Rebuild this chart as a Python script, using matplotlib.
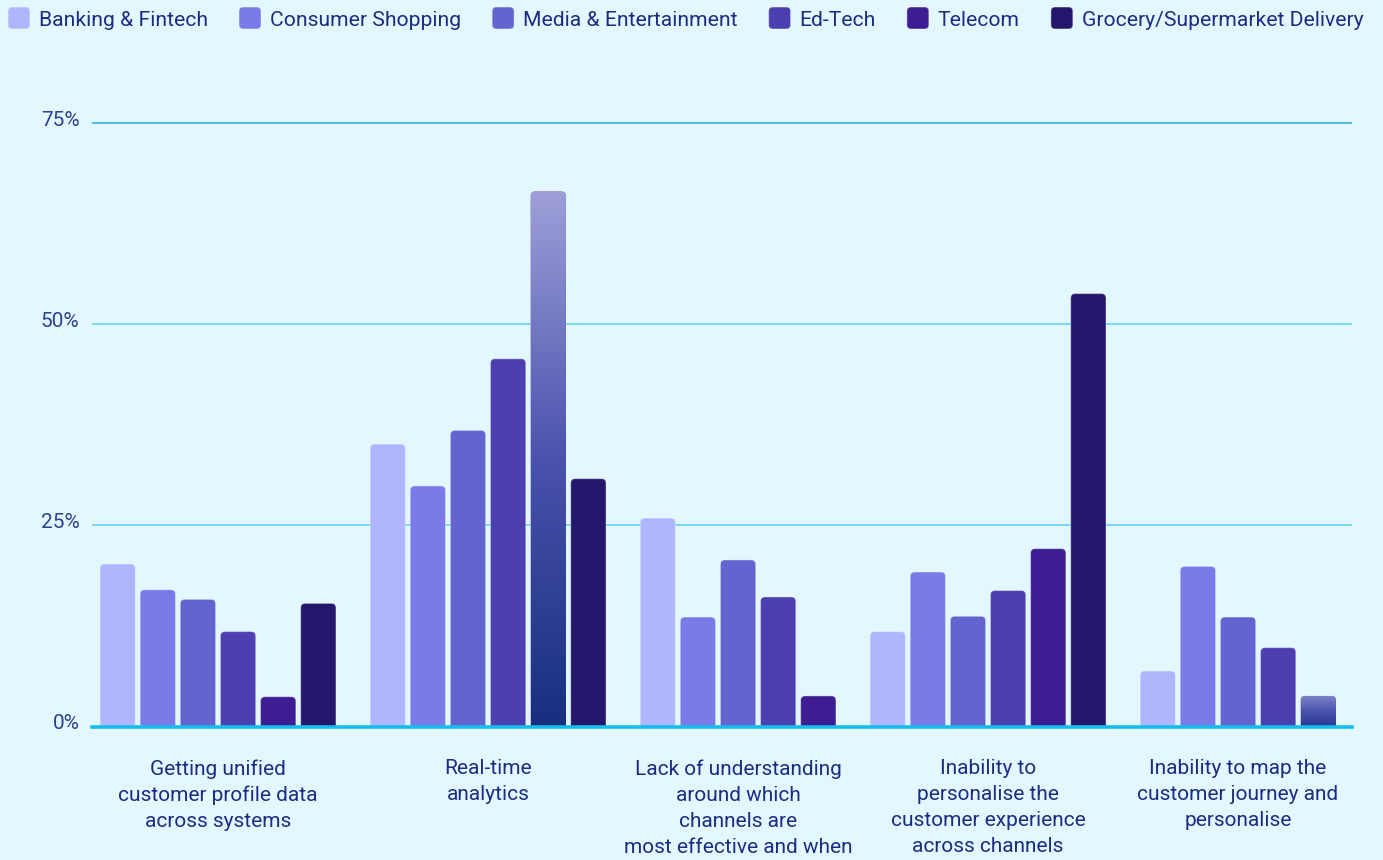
import matplotlib
matplotlib.use("Agg")
import matplotlib.pyplot as plt
import numpy as np
from matplotlib.patches import FancyBboxPatch
from matplotlib.colors import LinearSegmentedColormap
import matplotlib.transforms as mtransforms

# ---------------- data ----------------
categories = [
    "Getting unified\ncustomer profile data\nacross systems",
    "Real-time\nanalytics",
    "Lack of understanding\naround which\nchannels are\nmost effective and when",
    "Inability to\npersonalise the\ncustomer experience\nacross channels",
    "Inability to map the\ncustomer journey and\npersonalise",
]
series_names = ["Banking & Fintech", "Consumer Shopping", "Media & Entertainment",
                "Ed-Tech", "Telecom", "Grocery/Supermarket Delivery"]
banking   = [20.2, 35.1, 25.9, 11.8, 6.9]
consumer  = [17.0, 29.9, 13.6, 19.2, 19.9]
media     = [15.8, 36.8, 20.7, 13.7, 13.6]
edtech    = [11.8, 45.7, 16.1, 16.9, 9.8]
telecom   = [3.7, 66.5, 3.8, 22.1, 3.8]
grocery   = [15.3, 30.8, None, 53.8, None]
series_values = [banking, consumer, media, edtech, telecom, grocery]
y_ticks = [0, 25, 50, 75]
y_tick_labels = ["0%", "25%", "50%", "75%"]

# bars drawn with a gradient instead of the series colour: (series index, category index)
gradient_bars = {(4, 1): ("#9e9fd8", "#172f7f"), (4, 4): ("#7e82c8", "#26398d")}

colors = ["#b0b6fe", "#7a7ae8", "#6364d0", "#4c40b0", "#3e1c91", "#24176b"]
BG = "#e2f7fe"
TXT = "#1b2d82"
TICK_TXT = "#2a4290"
FONT = "Roboto"
FS = 15

W, H = 1383, 860
fig = plt.figure(figsize=(W / 100, H / 100), dpi=100, facecolor=BG)

def fx(px):
    return px / W

def fy(py):
    return 1 - py / H

ax_left, ax_right, ax_bottom_px = 92, 1352, 726.5
y_top_val = 80
px_per_unit_y = (726.5 - 123) / 75
ax_top_px = ax_bottom_px - y_top_val * px_per_unit_y
ax = fig.add_axes([fx(ax_left), fy(ax_bottom_px), fx(ax_right) - fx(ax_left),
                   fy(ax_top_px) - fy(ax_bottom_px)])
ax.set_facecolor(BG)
for s in ax.spines.values():
    s.set_visible(False)

# ---------------- positions ----------------
bar_w = 0.88
group_gap = 0.73
bars = []
group_centers = []
pos = 0.0
for g in range(len(categories)):
    gpos = []
    for s in range(len(series_names)):
        v = series_values[s][g]
        if v is None:
            continue
        bars.append((s, g, pos, v))
        gpos.append(pos)
        pos += 1
    group_centers.append(np.mean(gpos))
    pos += group_gap
first_x = bars[0][2]
last_x = bars[-1][2]
x_min = first_x - bar_w / 2 - 0.2
x_max = last_x + bar_w / 2 + 0.4
ax.set_xlim(x_min, x_max)
ax.set_ylim(0, y_top_val)

px_per_unit_x = (ax_right - ax_left) / (x_max - x_min)
radius_px = 4.5
r_x = radius_px / px_per_unit_x
aspect = px_per_unit_x / px_per_unit_y  # y-units per x-unit for same pixel size

# grid lines
grid_colors = {0: "#14bdf0", 25: "#63d3f4", 50: "#63d3f4", 75: "#35b3e2"}
for t in y_ticks:
    if t == 0:
        ax.axhline(t, color=grid_colors[t], lw=2.6, zorder=5, clip_on=False)
    else:
        ax.axhline(t, color=grid_colors[t], lw=1.2, zorder=0)

# bars
for s, g, x, v in bars:
    x0 = x - bar_w / 2
    y0 = -2 * r_x * aspect
    patch = FancyBboxPatch((x0, y0), bar_w, v - y0,
                           boxstyle=f"round,pad=0,rounding_size={r_x}",
                           mutation_aspect=aspect,
                           facecolor=colors[s], edgecolor=(1, 1, 1, 0.35),
                           linewidth=0.8, zorder=2)
    ax.add_patch(patch)
    if (s, g) in gradient_bars:
        top_c, bot_c = gradient_bars[(s, g)]
        cmap = LinearSegmentedColormap.from_list("g", [bot_c, "#4a52ad", top_c])
        grad = np.linspace(0, 1, 256).reshape(-1, 1)
        im = ax.imshow(grad, cmap=cmap, origin="lower", aspect="auto",
                       extent=[x0, x0 + bar_w, 0, v], zorder=3, interpolation="bilinear")
        im.set_clip_path(patch)

ax.set_xlim(x_min, x_max)
ax.set_ylim(0, y_top_val)
ax.set_xticks([])
ax.set_yticks(y_ticks)
ax.set_yticklabels(y_tick_labels, fontfamily=FONT, fontsize=FS, color=TICK_TXT)
ax.tick_params(axis="y", length=0, pad=9)
offset = mtransforms.ScaledTranslation(0, 5 / 100, fig.dpi_scale_trans)
for lab in ax.get_yticklabels():
    lab.set_transform(lab.get_transform() + offset)

# category labels
trans = mtransforms.blended_transform_factory(ax.transData, fig.transFigure)
for c, label in zip(group_centers, categories):
    ax.text(c, fy(759), label, transform=trans, ha="center", va="top",
            fontfamily=FONT, fontsize=FS, color=TXT, linespacing=1.47)

# legend
renderer = fig.canvas.get_renderer()
x_px = 8
sq = 22
for name, col in zip(series_names, colors):
    box = FancyBboxPatch((fx(x_px), fy(18 + sq / 2)), fx(sq), sq / H,
                         boxstyle="round,pad=0,rounding_size=0.003",
                         mutation_aspect=W / H,
                         transform=fig.transFigure, facecolor=col,
                         edgecolor=(1, 1, 1, 0.4), linewidth=0.8)
    fig.patches.append(box)
    t = fig.text(fx(x_px + sq + 9), fy(18), name, ha="left", va="center_baseline",
                 fontfamily=FONT, fontsize=15.2, color=TXT)
    bb = t.get_window_extent(renderer)
    x_px = x_px + sq + 9 + bb.width + 31

fig.savefig("out.png", dpi=100, facecolor=BG)
